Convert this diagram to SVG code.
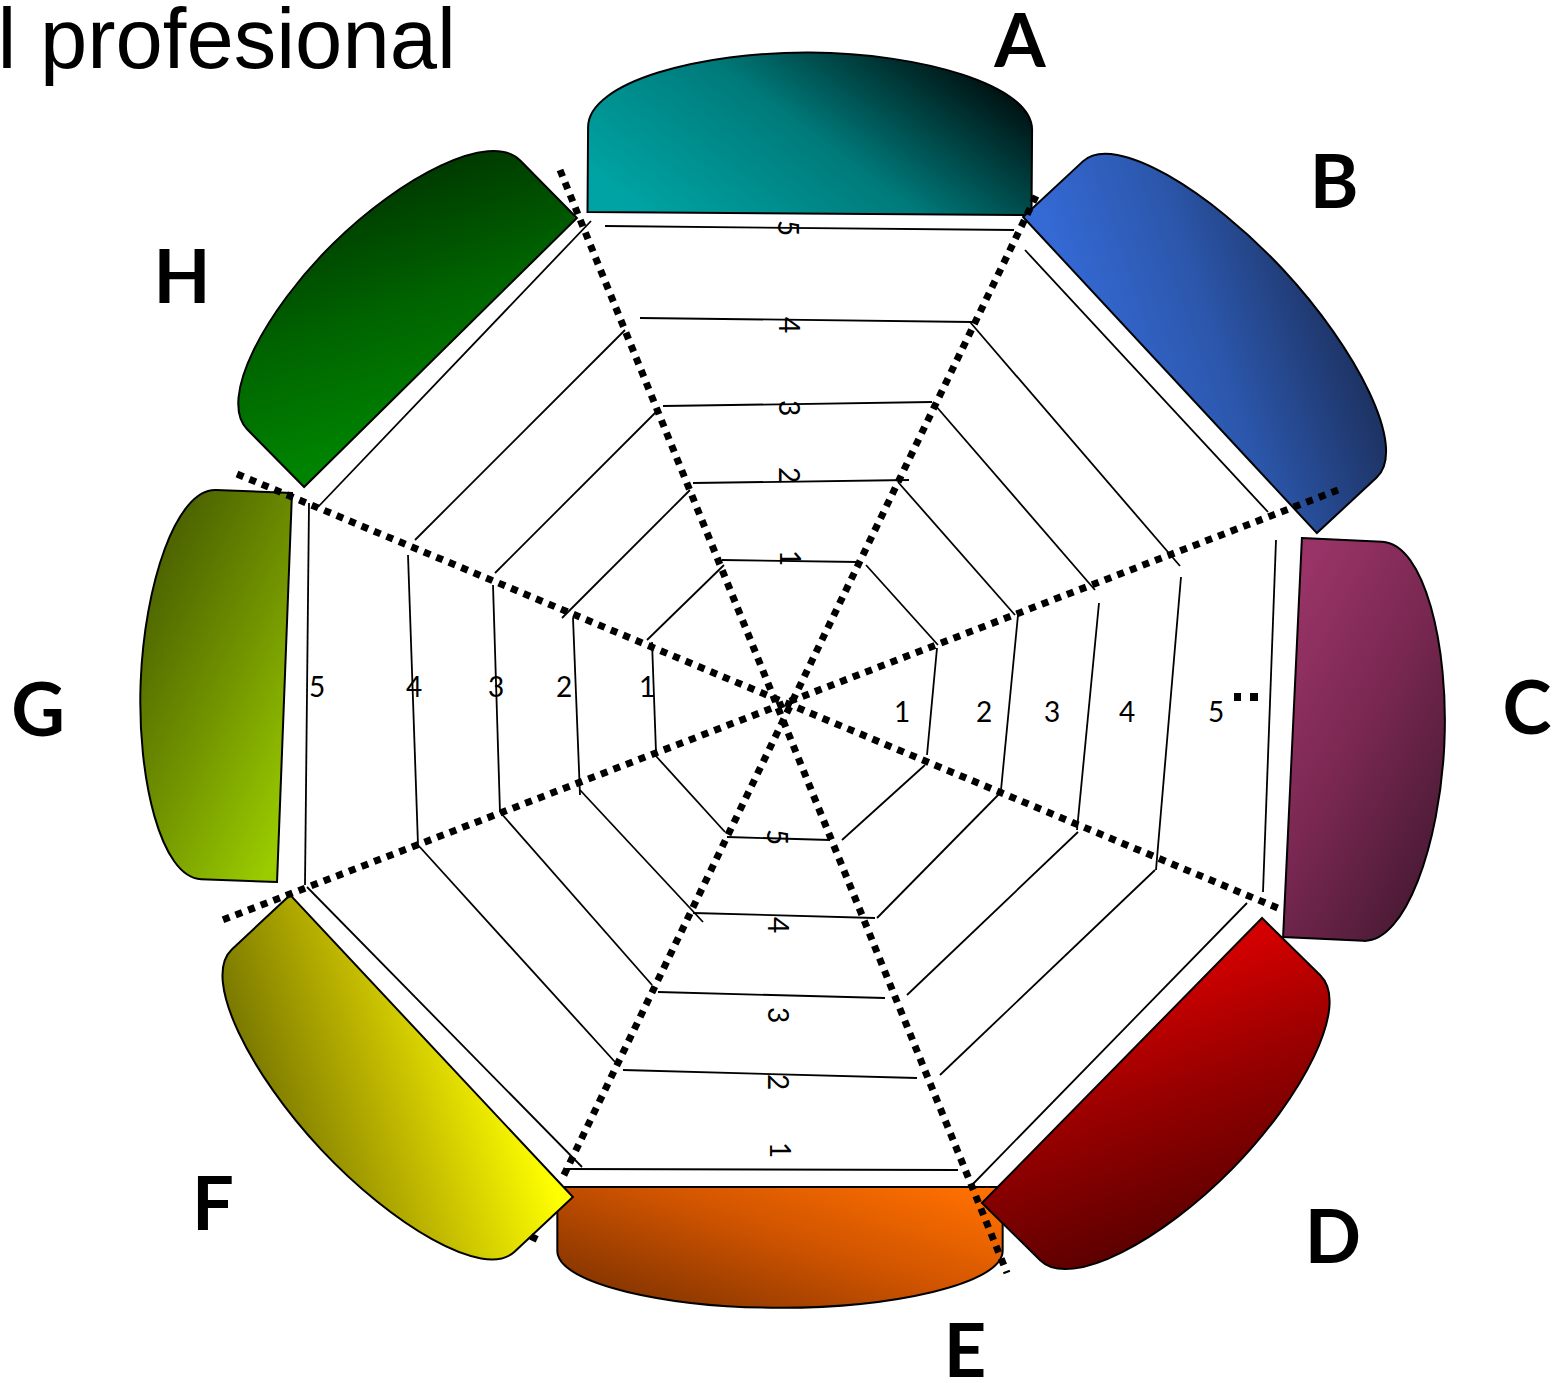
<svg xmlns="http://www.w3.org/2000/svg" width="1552" height="1383" viewBox="0 0 1552 1383">
<defs>
<style>
.web line{stroke:#000;stroke-width:1.8;fill:none}
.spoke{stroke:#000;stroke-width:7;stroke-dasharray:7 6.5;fill:none}
.petal{stroke:#000;stroke-width:2}
.num{font-family:Lato,"DejaVu Sans",sans-serif;font-size:28px;text-anchor:middle;fill:#000}
.letter{font-family:Lato,"Open Sans",sans-serif;font-weight:700;font-size:74px;text-anchor:middle;fill:#000}
.title{font-family:"Liberation Sans",Arial,sans-serif;font-size:85px;fill:#000}
</style>
<path id="petal" d="M -222 0 L -222 -85 C -222 -130 -110 -161 0 -161 C 110 -161 222 -130 222 -85 L 222 0 Z" vector-effect="non-scaling-stroke"/>
<linearGradient id="gA" x1="0" y1="0.75" x2="1" y2="0.25"><stop offset="0" stop-color="#00a3a3"/><stop offset="0.5" stop-color="#007a7a"/><stop offset="1" stop-color="#000808"/></linearGradient>
<linearGradient id="gB" x1="0" y1="0.9" x2="1" y2="0.1"><stop offset="0" stop-color="#356ad6"/><stop offset="0.45" stop-color="#2b56aa"/><stop offset="1" stop-color="#1a2a52"/></linearGradient>
<linearGradient id="gC" x1="0" y1="0.9" x2="1" y2="0.1"><stop offset="0" stop-color="#9a3468"/><stop offset="0.45" stop-color="#7a2852"/><stop offset="1" stop-color="#421830"/></linearGradient>
<linearGradient id="gD" x1="0" y1="0.9" x2="1" y2="0.1"><stop offset="0" stop-color="#d40000"/><stop offset="0.4" stop-color="#9a0000"/><stop offset="1" stop-color="#500000"/></linearGradient>
<linearGradient id="gE" x1="0" y1="0.9" x2="1" y2="0.1"><stop offset="0" stop-color="#ff7000"/><stop offset="0.45" stop-color="#d05400"/><stop offset="1" stop-color="#7a3000"/></linearGradient>
<linearGradient id="gF" x1="0" y1="0.9" x2="1" y2="0.1"><stop offset="0" stop-color="#ffff00"/><stop offset="0.45" stop-color="#c0b800"/><stop offset="1" stop-color="#6a6a00"/></linearGradient>
<linearGradient id="gG" x1="0" y1="0.9" x2="1" y2="0.1"><stop offset="0" stop-color="#9acc00"/><stop offset="0.45" stop-color="#729400"/><stop offset="1" stop-color="#445800"/></linearGradient>
<linearGradient id="gH" x1="0" y1="0.9" x2="1" y2="0.1"><stop offset="0" stop-color="#008400"/><stop offset="0.45" stop-color="#006400"/><stop offset="1" stop-color="#003000"/></linearGradient>
</defs>
<rect width="1552" height="1383" fill="#fff"/>
<text class="title" x="-2.5" y="68">l profesional</text>

<g id="web" class="web">
  <g id="sector-A">
    <line x1="605" y1="226" x2="1014" y2="230"/>
    <line x1="640" y1="318" x2="972" y2="322"/>
    <line x1="663" y1="406" x2="932" y2="402"/>
    <line x1="693" y1="483" x2="909" y2="480"/>
    <line x1="722" y1="560" x2="858" y2="562"/>
    <text class="num" transform="translate(788,228) rotate(90)" y="10">5</text>
    <text class="num" transform="translate(789,325) rotate(90)" y="10">4</text>
    <text class="num" transform="translate(789,408) rotate(90)" y="10">3</text>
    <text class="num" transform="translate(789,475) rotate(90)" y="10">2</text>
    <text class="num" transform="translate(790,558) rotate(90)" y="10">1</text>
  </g>
  <g id="sector-B">
    <line x1="1025" y1="250" x2="1268" y2="512"/>
    <line x1="970" y1="322" x2="1180" y2="566"/>
    <line x1="935" y1="405" x2="1095" y2="590"/>
    <line x1="898" y1="482" x2="1015" y2="615"/>
    <line x1="866" y1="565" x2="938" y2="645"/>
  </g>
  <g id="sector-C">
    <line x1="937" y1="648" x2="927" y2="755"/>
    <line x1="1018" y1="615" x2="1001" y2="790"/>
    <line x1="1099" y1="603" x2="1077" y2="830"/>
    <line x1="1181" y1="577" x2="1156" y2="870"/>
    <line x1="1276" y1="540" x2="1263" y2="892"/>
    <text class="num" x="902" y="722">1</text>
    <text class="num" x="984" y="722">2</text>
    <text class="num" x="1052" y="722">3</text>
    <text class="num" x="1127" y="722">4</text>
    <text class="num" x="1216" y="722">5</text>
  </g>
  <g id="sector-D">
    <line x1="925" y1="765" x2="842" y2="840"/>
    <line x1="1003" y1="790" x2="877" y2="918"/>
    <line x1="1078" y1="832" x2="907" y2="995"/>
    <line x1="1155" y1="870" x2="940" y2="1075"/>
    <line x1="1247" y1="903" x2="972" y2="1185"/>
  </g>
  <g id="sector-E">
    <line x1="727" y1="837" x2="830" y2="840"/>
    <line x1="693" y1="913" x2="875" y2="918"/>
    <line x1="658" y1="992" x2="885" y2="998"/>
    <line x1="623" y1="1070" x2="917" y2="1078"/>
    <line x1="565" y1="1169" x2="958" y2="1170"/>
    <text class="num" transform="translate(777,837) rotate(90)" y="10">5</text>
    <text class="num" transform="translate(778,925) rotate(90)" y="10">4</text>
    <text class="num" transform="translate(778,1015) rotate(90)" y="10">3</text>
    <text class="num" transform="translate(778,1082) rotate(90)" y="10">2</text>
    <text class="num" transform="translate(780,1150) rotate(90)" y="10">1</text>
  </g>
  <g id="sector-F">
    <line x1="655" y1="755" x2="725" y2="832"/>
    <line x1="580" y1="790" x2="703" y2="922"/>
    <line x1="500" y1="812" x2="652" y2="985"/>
    <line x1="418" y1="845" x2="615" y2="1062"/>
    <line x1="307" y1="887" x2="582" y2="1167"/>
  </g>
  <g id="sector-G">
    <line x1="652" y1="642" x2="656" y2="752"/>
    <line x1="573" y1="618" x2="580" y2="795"/>
    <line x1="493" y1="585" x2="500" y2="812"/>
    <line x1="408" y1="555" x2="418" y2="845"/>
    <line x1="309" y1="503" x2="305" y2="885"/>
    <text class="num" x="317" y="697">5</text>
    <text class="num" x="414" y="697">4</text>
    <text class="num" x="496" y="697">3</text>
    <text class="num" x="564" y="697">2</text>
    <text class="num" x="647" y="697">1</text>
  </g>
  <g id="sector-H">
    <line x1="647" y1="640" x2="724" y2="565"/>
    <line x1="562" y1="618" x2="690" y2="490"/>
    <line x1="495" y1="573" x2="658" y2="410"/>
    <line x1="415" y1="540" x2="625" y2="330"/>
    <line x1="318" y1="507" x2="591" y2="221"/>
  </g>
</g>

<g id="node-E"><use href="#petal" class="petal" fill="url(#gE)" transform="translate(780,1187) rotate(180) scale(1.003,0.75)"/><text class="letter" x="965" y="1377">E</text></g>
<g id="node-A"><use href="#petal" class="petal" fill="url(#gA)" transform="translate(809.5,213.5) rotate(0.4)"/><text class="letter" x="1020" y="67">A</text></g>
<g id="node-B"><use href="#petal" class="petal" fill="url(#gB)" transform="translate(1170,375) rotate(47.1) scale(0.972,0.96)"/><text class="letter" x="1334" y="208">B</text></g>
<g id="node-C"><use href="#petal" class="petal" fill="url(#gC)" transform="translate(1292.5,737.5) rotate(92.7) scale(0.9,0.944)"/><text class="letter" x="1527" y="734">C</text></g>
<g id="node-D"><use href="#petal" class="petal" fill="url(#gD)" transform="translate(1122,1060.5) rotate(134.5) scale(0.9,0.96)"/><text class="letter" x="1333" y="1263">D</text></g>
<g id="node-F"><use href="#petal" class="petal" fill="url(#gF)" transform="translate(431.5,1046) rotate(226.9) scale(0.932,0.94)"/><text class="letter" x="213" y="1230">F</text></g>
<g id="node-G"><use href="#petal" class="petal" fill="url(#gG)" transform="translate(284.5,687.5) rotate(-87.8) scale(0.877,0.894)"/><text class="letter" x="38" y="736">G</text></g>
<g id="node-H"><use href="#petal" class="petal" fill="url(#gH)" transform="translate(440.5,352.5) rotate(-44.6) scale(0.863,0.95)"/><text class="letter" x="182" y="303">H</text></g>

<g id="connectors">
  <path class="spoke" d="M 560 170 L 1007 1273"/>
  <path class="spoke" d="M 1036 196 L 563 1177"/>
  <path class="spoke" d="M 535.5 1234.8 L 532.5 1241.1"/>
  <path class="spoke" d="M 1338 490 L 220 921"/>
  <path class="spoke" d="M 237 474 L 1280 909"/>
  <rect x="1234" y="693" width="7" height="8"/>
  <rect x="1250" y="693" width="8" height="8"/>
</g>
</svg>
